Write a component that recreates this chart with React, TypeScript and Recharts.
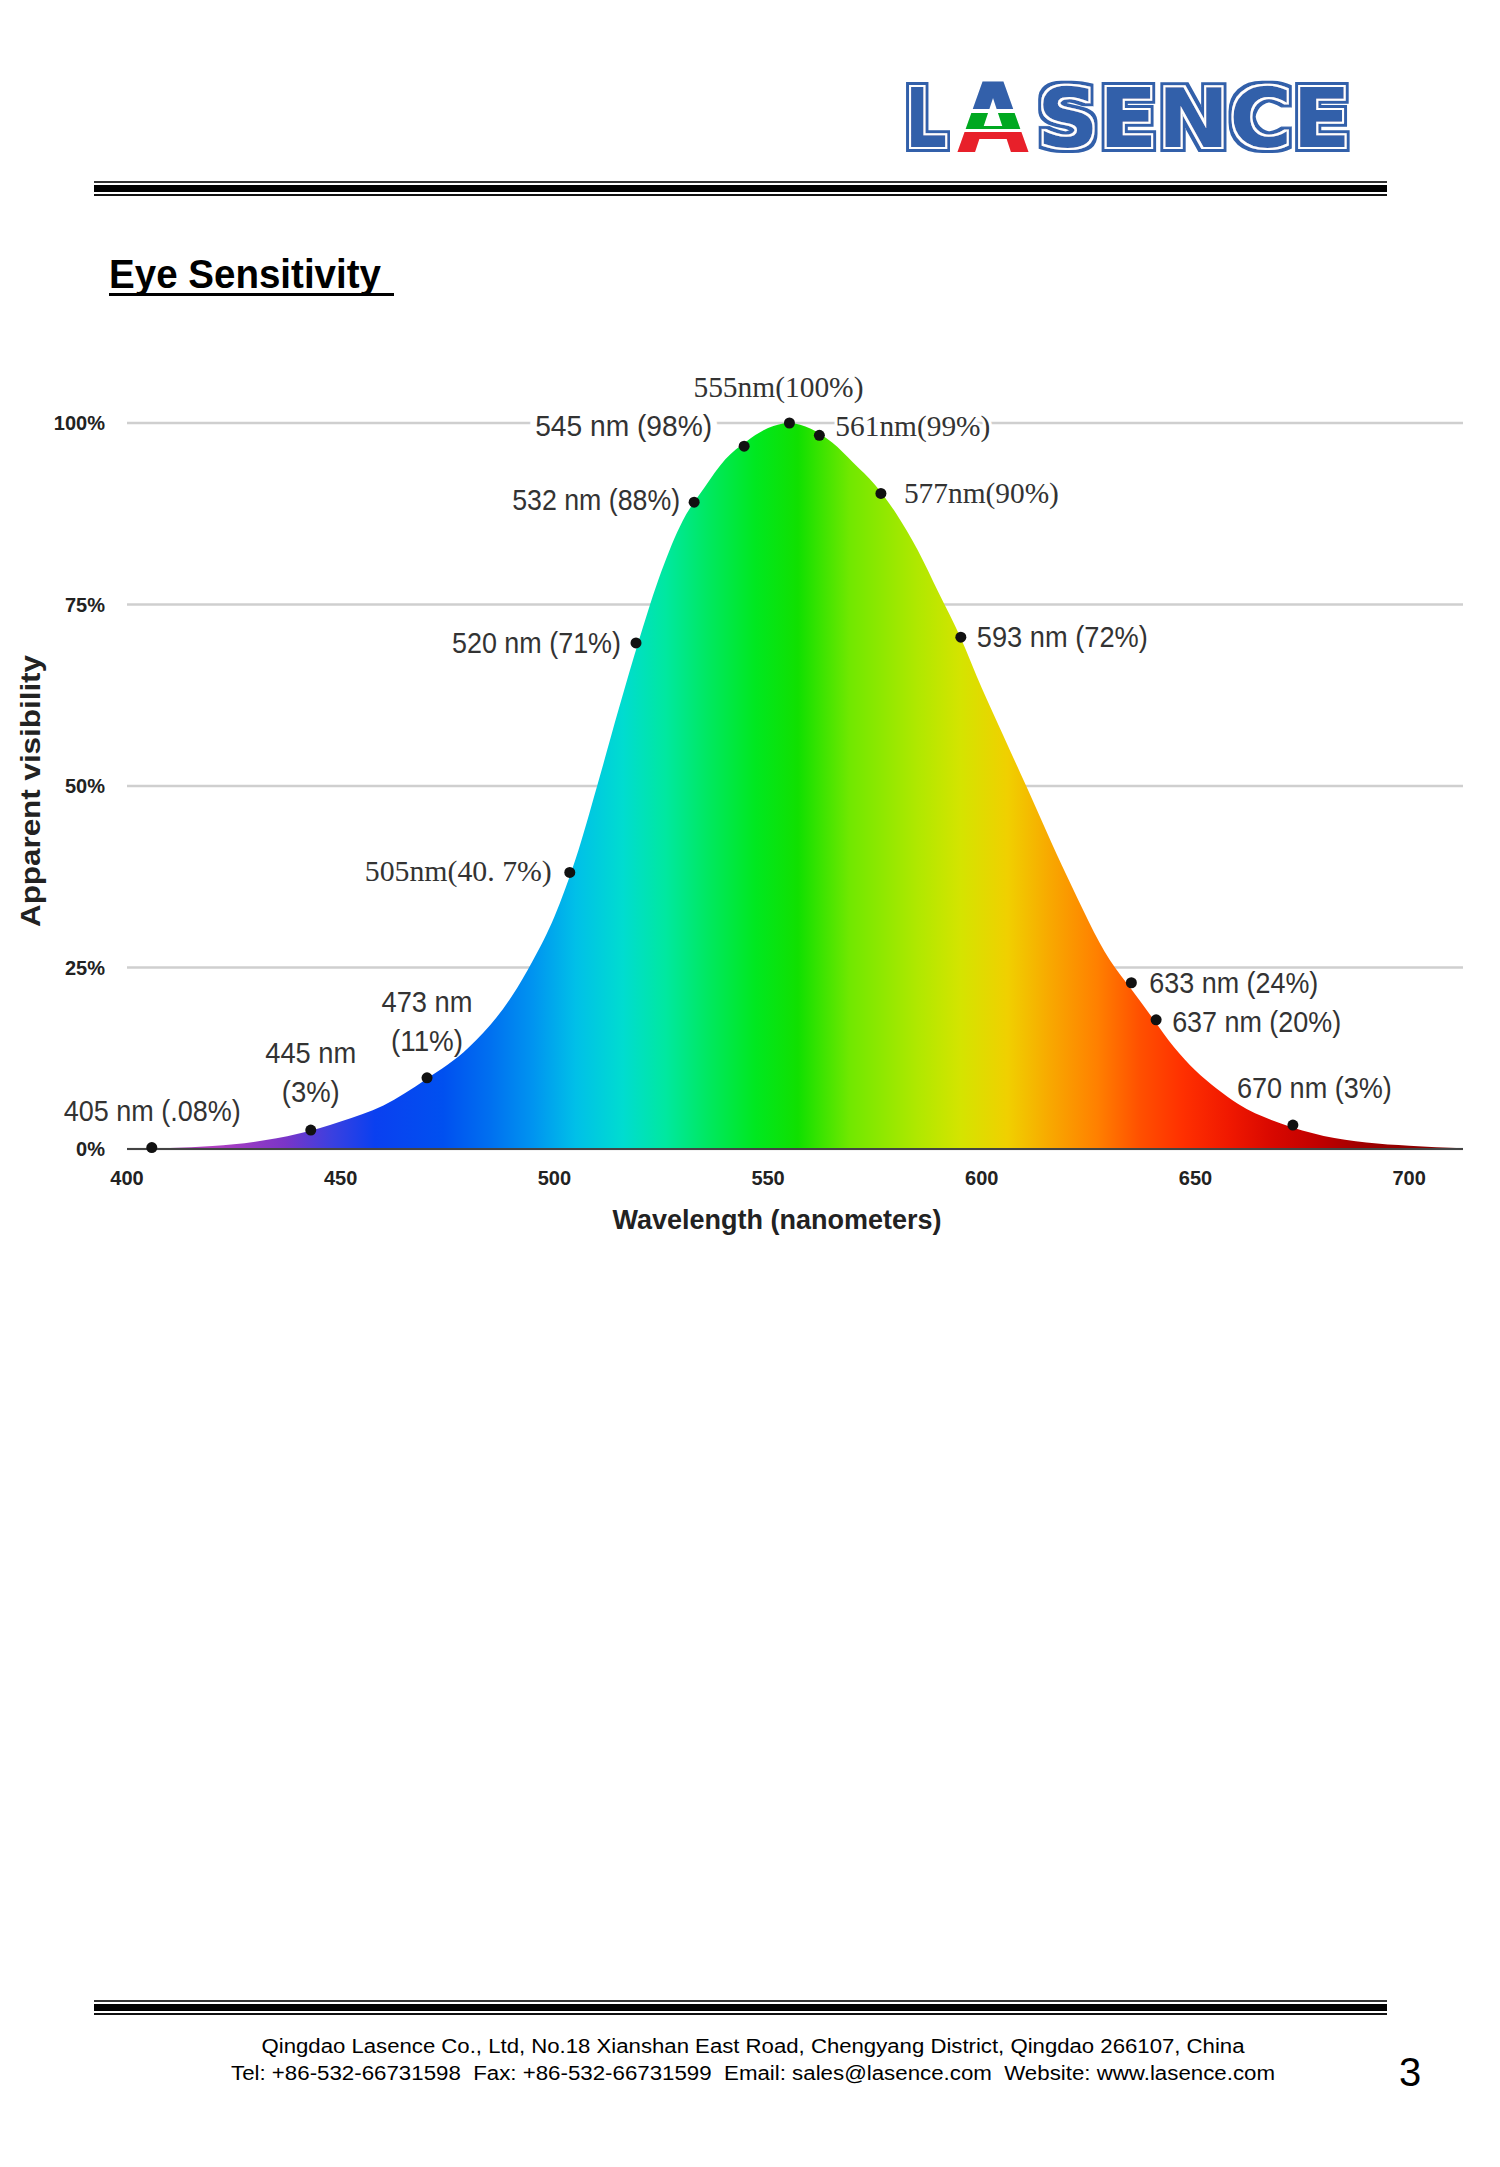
import React from 'react';
import { ComposedChart, Area, Scatter, XAxis, YAxis, CartesianGrid, Label } from 'recharts';

// ---- data ----
const curveNm = [400, 405, 410, 420, 430, 440, 450, 460, 470, 480, 490, 495, 500, 505, 510, 515, 520, 525, 530, 535, 540, 545, 550, 555, 560, 565, 570, 575, 580, 585, 590, 595, 600, 605, 610, 620, 630, 635, 640, 645, 650, 655, 660, 670, 680, 690, 700, 712.6];
const curveVal = [0, 0.1, 0.15, 0.4, 1.0, 2.1, 3.8, 6.0, 9.6, 14.0, 21.0, 26.0, 32.0, 40.0, 50.0, 60.5, 70.5, 79.5, 86.5, 91.0, 95.0, 97.5, 99.3, 100, 99.2, 97.3, 94.5, 91.5, 87.5, 82.5, 76.5, 70.5, 63.5, 57.0, 50.5, 37.5, 26.0, 22.0, 18.0, 14.0, 10.8, 8.3, 6.2, 3.5, 1.8, 0.9, 0.45, 0.1];

const dotNm = [405.8, 443, 470.2, 503.6, 519.1, 532.7, 544.4, 555, 562, 576.4, 595.1, 635, 640.8, 672.8];
const dotVal = [0.2, 2.6, 9.8, 38.1, 69.7, 89.1, 96.8, 100, 98.3, 90.3, 70.5, 22.9, 17.8, 3.3];
const dotLabels = [
  ['405 nm (.08%)'],
  ['445 nm', '(3%)'],
  ['473 nm', '(11%)'],
  ['505nm(40. 7%)'],
  ['520 nm (71%)'],
  ['532 nm (88%)'],
  ['545 nm (98%)'],
  ['555nm(100%)'],
  ['561nm(99%)'],
  ['577nm(90%)'],
  ['593 nm (72%)'],
  ['633 nm (24%)'],
  ['637 nm (20%)'],
  ['670 nm (3%)'],
];

const xTicks = [400, 450, 500, 550, 600, 650, 700];
const yTicks = [0, 25, 50, 75, 100];

// ---- styles / layout ----
const FONT = "'Liberation Sans', Arial, sans-serif";
const NARROW = "'Liberation Sans Narrow', 'Liberation Sans', Arial, sans-serif";
const SERIF = "'Liberation Serif', 'DejaVu Serif', serif";

type LineLay = { dx: number; dy: number; w: number };
type Lay = { anchor: 'start' | 'middle' | 'end'; serif?: boolean; halo?: number; lines: LineLay[] };

const labelLayout: Lay[] = [
  { anchor: 'start', lines: [{ dx: -88, dy: -37, w: 177 }] },
  { anchor: 'middle', lines: [{ dx: 0, dy: -77, w: 91 }, { dx: 0, dy: -38, w: 58 }] },
  { anchor: 'middle', lines: [{ dx: 0, dy: -76, w: 91 }, { dx: 0, dy: -37, w: 72 }] },
  { anchor: 'end', serif: true, lines: [{ dx: -18, dy: -1, w: 187 }] },
  { anchor: 'end', lines: [{ dx: -15, dy: 0, w: 169 }] },
  { anchor: 'end', lines: [{ dx: -14, dy: -2, w: 168 }] },
  { anchor: 'end', halo: 14, lines: [{ dx: -32, dy: -20, w: 177 }] },
  { anchor: 'middle', serif: true, lines: [{ dx: -11, dy: -36, w: 170 }] },
  { anchor: 'start', serif: true, halo: 6, lines: [{ dx: 16, dy: -9, w: 155 }] },
  { anchor: 'start', serif: true, lines: [{ dx: 23, dy: 0, w: 155 }] },
  { anchor: 'start', lines: [{ dx: 16, dy: 0, w: 171 }] },
  { anchor: 'start', lines: [{ dx: 18, dy: 0, w: 169 }] },
  { anchor: 'start', lines: [{ dx: 16, dy: 2, w: 169 }] },
  { anchor: 'start', lines: [{ dx: -56, dy: -37, w: 155 }] },
];

const spectrumNm = [400, 420, 437, 448, 458, 474, 485, 495, 505, 516, 526, 536, 547, 557, 569, 585, 595, 606, 616, 627, 637, 647, 658, 668, 679, 689, 700, 712.6];
const spectrumColor = ['#8a3a9a', '#b040c0', '#7a35c8', '#3a40e0', '#0a40f0', '#0050f0', '#0070f0', '#0094f0', '#00c0e8', '#00dcd0', '#00e8a0', '#00e860', '#00e820', '#10e000', '#70e800', '#b0e800', '#d4e400', '#f0d000', '#f8a800', '#ff8000', '#ff5000', '#ff3000', '#f01800', '#d80800', '#c00000', '#a00000', '#900000', '#800000'];

const curveData = curveNm.map((nm, i) => ({ nm, v: curveVal[i] }));
const dotData = dotNm.map((nm, i) => ({ nm, v: dotVal[i], i, label: dotLabels[i] }));

const nmMin = curveNm[0];
const nmMax = curveNm[curveNm.length - 1];

const DotShape = (props: any) => {
  const { cx, cy, payload } = props;
  if (cx == null || cy == null || !payload) return null;
  const lay = labelLayout[payload.i];
  const lines: string[] = payload.label;
  return (
    <g>
      <circle cx={cx} cy={cy} r={5.5} fill="#111" />
      {lines.map((t, k) => (
        <text
          key={k}
          x={cx + lay.lines[k].dx}
          y={cy + lay.lines[k].dy}
          textAnchor={lay.anchor}
          dominantBaseline="central"
          fontFamily={lay.serif ? SERIF : NARROW}
          fontSize={29}
          fill="#333"
          stroke={lay.halo ? '#fff' : 'none'}
          strokeWidth={lay.halo || 0}
          paintOrder="stroke"
          textLength={lay.lines[k].w}
          lengthAdjust="spacingAndGlyphs"
        >
          {t}
        </text>
      ))}
    </g>
  );
};

const XTitle = (props: any) => {
  const vb = props.viewBox || {};
  return (
    <text
      x={vb.x + vb.width / 2 - 18}
      y={vb.y + 70}
      textAnchor="middle"
      dominantBaseline="central"
      fontFamily={FONT}
      fontWeight="bold"
      fontSize={28}
      fill="#222"
      textLength={329}
      lengthAdjust="spacingAndGlyphs"
    >
      Wavelength (nanometers)
    </text>
  );
};

const YTitle = (props: any) => {
  const vb = props.viewBox || {};
  const x = vb.x + 3;
  const y = vb.y + vb.height / 2 + 5;
  return (
    <text
      x={x}
      y={y}
      transform={`rotate(-90 ${x} ${y})`}
      textAnchor="middle"
      dominantBaseline="central"
      fontFamily={FONT}
      fontWeight="bold"
      fontSize={28}
      fill="#222"
      textLength={272}
      lengthAdjust="spacingAndGlyphs"
    >
      Apparent visibility
    </text>
  );
};

const tickStyle = { fontFamily: FONT, fontWeight: 'bold' as const, fontSize: 20, fill: '#222' };

const Rules = ({ y }: { y: number }) => (
  <g>
    <rect x={94} y={y} width={1293} height={2} fill="#333" />
    <rect x={94} y={y + 4} width={1293} height={7} fill="#000" />
    <rect x={94} y={y + 13} width={1293} height={2} fill="#111" />
  </g>
);

const BLUE = '#3360aa';
const NB = '\u00a0';

export default function App() {
  return (
    <div style={{ position: 'absolute', left: 0, top: 0, width: 1500, height: 2167, background: '#fff' }}>
      {/* header */}
      <svg width={1500} height={320} style={{ position: 'absolute', left: 0, top: 0 }}>
        <defs>
          <linearGradient id="logoA" x1={0} y1={82} x2={0} y2={152} gradientUnits="userSpaceOnUse">
            <stop offset="0" stopColor={BLUE} />
            <stop offset="0.39" stopColor={BLUE} />
            <stop offset="0.39" stopColor="#fff" />
            <stop offset="0.44" stopColor="#fff" />
            <stop offset="0.44" stopColor="#00a820" />
            <stop offset="0.67" stopColor="#00a820" />
            <stop offset="0.67" stopColor="#fff" />
            <stop offset="0.72" stopColor="#fff" />
            <stop offset="0.72" stopColor="#e8202a" />
            <stop offset="1" stopColor="#e8202a" />
          </linearGradient>
          <filter id="inline" x="-5%" y="-20%" width="110%" height="140%">
            <feMorphology in="SourceAlpha" operator="dilate" radius="5" result="d5" />
            <feFlood floodColor={BLUE} result="b" />
            <feComposite in="b" in2="d5" operator="in" result="outer" />
            <feMorphology in="SourceAlpha" operator="dilate" radius="2" result="d2" />
            <feFlood floodColor="#fff" result="w" />
            <feComposite in="w" in2="d2" operator="in" result="white" />
            <feMerge>
              <feMergeNode in="outer" />
              <feMergeNode in="white" />
              <feMergeNode in="SourceGraphic" />
            </feMerge>
          </filter>
        </defs>
        <g fontFamily="'DejaVu Sans', sans-serif" fontWeight="bold" fontSize={82}>
          <text x={905} y={147} textLength={42} lengthAdjust="spacingAndGlyphs" fill={BLUE} filter="url(#inline)">L</text>
          <text x={957} y={152} fontSize={96} textLength={72} lengthAdjust="spacingAndGlyphs" fill="url(#logoA)">A</text>
          <text x={1037} y={147} textLength={314} lengthAdjust="spacingAndGlyphs" fill={BLUE} filter="url(#inline)">SENCE</text>
        </g>
        <Rules y={181} />
        <text x={109} y={288} fontFamily={FONT} fontWeight="bold" fontSize={40} fill="#000" textLength={272} lengthAdjust="spacingAndGlyphs">
          Eye Sensitivity
        </text>
        <rect x={109} y={293} width={285} height={3} fill="#000" />
      </svg>

      {/* chart */}
      <div style={{ position: 'absolute', left: 0, top: 0 }}>
        <ComposedChart width={1500} height={1259} data={curveData} margin={{ top: 423, right: 37, bottom: 0, left: 27 }}>
          <defs>
            <linearGradient id="spectrum" x1="0" y1="0" x2="1" y2="0">
              {spectrumNm.map((nm, i) => (
                <stop key={i} offset={(nm - nmMin) / (nmMax - nmMin)} stopColor={spectrumColor[i]} />
              ))}
            </linearGradient>
          </defs>
          <CartesianGrid horizontal vertical={false} stroke="#cfcfcf" strokeWidth={2.5} />
          <XAxis
            dataKey="nm"
            type="number"
            domain={[400, 712.6]}
            ticks={xTicks}
            height={110}
            tickLine={false}
            tickSize={0}
            tickMargin={22}
            axisLine={{ stroke: '#444', strokeWidth: 2 }}
            tick={tickStyle}
          >
            <Label content={<XTitle />} />
          </XAxis>
          <YAxis
            type="number"
            domain={[0, 100]}
            ticks={yTicks}
            width={100}
            tickLine={false}
            axisLine={false}
            tickSize={0}
            tickMargin={22}
            tickFormatter={(v: number) => `${v}%`}
            tick={tickStyle}
          >
            <Label content={<YTitle />} />
          </YAxis>
          <Area
            type="monotone"
            dataKey="v"
            fill="url(#spectrum)"
            fillOpacity={1}
            stroke="none"
            baseValue={0}
            dot={false}
            activeDot={false}
            isAnimationActive={false}
          />
          <Scatter data={dotData} dataKey="v" shape={<DotShape />} isAnimationActive={false} />
        </ComposedChart>
      </div>

      {/* footer */}
      <svg width={1500} height={200} style={{ position: 'absolute', left: 0, top: 1990 }}>
        <Rules y={10} />
        <text x={753} y={63} textAnchor="middle" fontFamily={NARROW} fontSize={20} fill="#000" textLength={983} lengthAdjust="spacingAndGlyphs">
          Qingdao Lasence Co., Ltd, No.18 Xianshan East Road, Chengyang District, Qingdao 266107, China
        </text>
        <text x={753} y={90} textAnchor="middle" fontFamily={NARROW} fontSize={20} fill="#000" textLength={1044} lengthAdjust="spacingAndGlyphs">
          {`Tel: +86-532-66731598${NB}${NB}Fax: +86-532-66731599${NB}${NB}Email: sales@lasence.com${NB}${NB}Website: www.lasence.com`}
        </text>
        <text x={1410} y={96} textAnchor="middle" fontFamily={NARROW} fontSize={40} fill="#000">
          3
        </text>
      </svg>
    </div>
  );
}
